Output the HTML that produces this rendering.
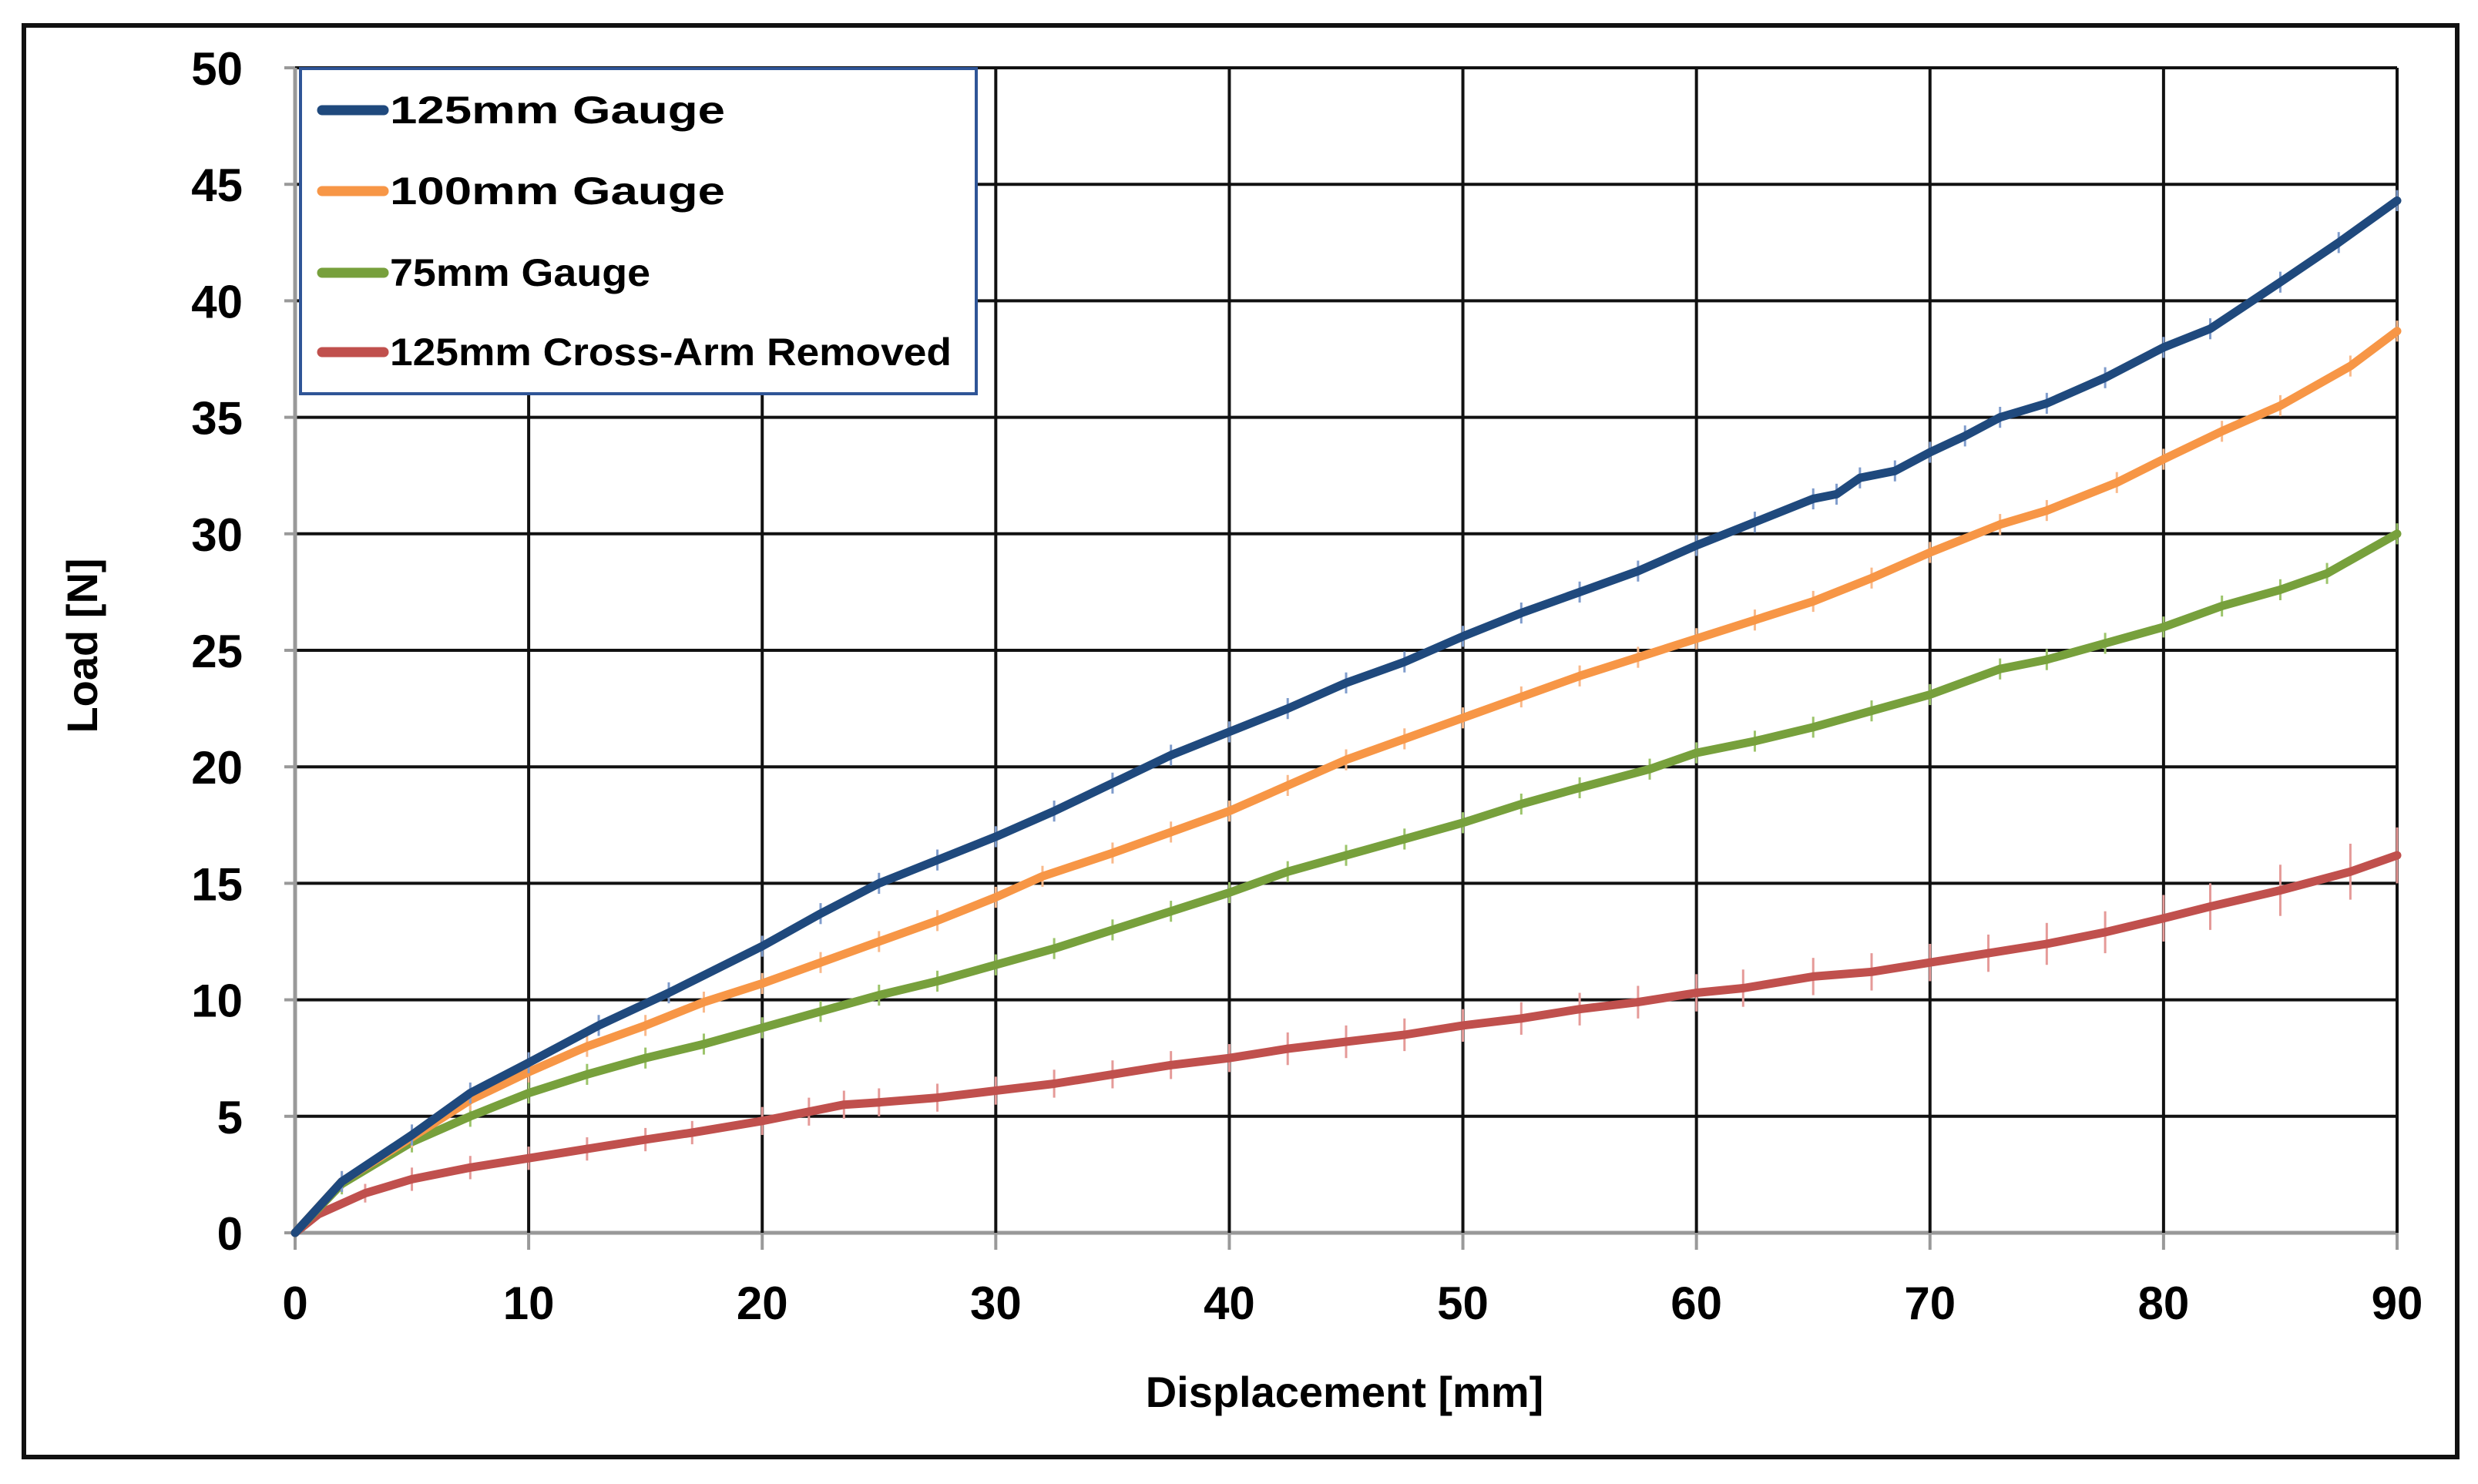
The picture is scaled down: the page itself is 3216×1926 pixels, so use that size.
<!DOCTYPE html>
<html><head><meta charset="utf-8"><style>
html,body{margin:0;padding:0;background:#fff;}
svg{display:block;font-family:"Liberation Sans",sans-serif;}
</style></head><body>
<svg id="chart" width="3216" height="1926" viewBox="0 0 3216 1926" xmlns="http://www.w3.org/2000/svg">
<rect x="31" y="33" width="3158" height="1858" fill="#fff" stroke="#111" stroke-width="6"/>
<g id="grid"></g>
<g id="series"></g>
<g id="ticks"></g>
<text x="1745" y="1826" text-anchor="middle" font-size="56" font-weight="bold">Displacement [mm]</text>
<text transform="translate(126,838) rotate(-90)" text-anchor="middle" font-size="56" font-weight="bold">Load [N]</text>
<g>
<rect x="390" y="89" width="877" height="422" fill="#fff" stroke="#2f5597" stroke-width="4"/>
<g><line x1="418" y1="143" x2="498" y2="143" stroke="#1f497d" stroke-width="13" stroke-linecap="round"/><text x="506" y="160" font-size="50" font-weight="bold" textLength="435" lengthAdjust="spacingAndGlyphs">125mm Gauge</text></g>
<g><line x1="418" y1="248" x2="498" y2="248" stroke="#f79646" stroke-width="13" stroke-linecap="round"/><text x="506" y="265" font-size="50" font-weight="bold" textLength="435" lengthAdjust="spacingAndGlyphs">100mm Gauge</text></g>
<g><line x1="418" y1="354" x2="498" y2="354" stroke="#77a03c" stroke-width="13" stroke-linecap="round"/><text x="506" y="371" font-size="50" font-weight="bold" textLength="338" lengthAdjust="spacingAndGlyphs">75mm Gauge</text></g>
<g><line x1="418" y1="457" x2="498" y2="457" stroke="#c0504d" stroke-width="13" stroke-linecap="round"/><text x="506" y="474" font-size="50" font-weight="bold" textLength="729" lengthAdjust="spacingAndGlyphs">125mm Cross-Arm Removed</text></g>
</g>
</svg>
<script>
const xTicks=[0,10,20,30,40,50,60,70,80,90];
const yTicks=[0,5,10,15,20,25,30,35,40,45,50];
const blueX=[0,2,5,7.5,10,13,16,20,22.5,25,27.5,30,32.5,35,37.5,40,42.5,45,47.5,50,52.5,55,57.5,60,62.5,65,66,67,68.5,70,71.5,73,75,77.5,80,82,85,87.5,90];
const blueY=[0,2.2,4.2,6,7.3,8.9,10.3,12.3,13.7,15,16,17,18.1,19.3,20.5,21.5,22.5,23.6,24.5,25.6,26.6,27.5,28.4,29.5,30.5,31.5,31.7,32.4,32.7,33.5,34.2,35,35.6,36.7,38,38.8,40.8,42.5,44.3];
const orangeX=[0,2,5,7.5,10,12.5,15,17.5,20,22.5,25,27.5,30,32,35,37.5,40,42.5,45,47.5,50,52.5,55,57.5,60,62.5,65,67.5,70,73,75,78,80,82.5,85,88,90];
const orangeY=[0,2.2,4.1,5.7,6.9,8,8.9,9.9,10.7,11.6,12.5,13.4,14.4,15.3,16.3,17.2,18.1,19.2,20.3,21.2,22.1,23,23.9,24.7,25.5,26.3,27.1,28.1,29.2,30.4,31,32.2,33.2,34.4,35.5,37.2,38.7];
const greenX=[0,2,5,7.5,10,12.5,15,17.5,20,22.5,25,27.5,30,32.5,35,37.5,40,42.5,45,47.5,50,52.5,55,58,60,62.5,65,67.5,70,73,75,77.5,80,82.5,85,87,90];
const greenY=[0,2.1,3.9,5,6,6.8,7.5,8.1,8.8,9.5,10.2,10.8,11.5,12.2,13,13.8,14.6,15.5,16.2,16.9,17.6,18.4,19.1,19.9,20.6,21.1,21.7,22.4,23.1,24.2,24.6,25.3,26,26.9,27.6,28.3,30];
const redX=[0,1,3,5,7.5,10,12.5,15,17,20,22,23.5,25,27.5,30,32.5,35,37.5,40,42.5,45,47.5,50,52.5,55,57.5,60,62,65,67.5,70,72.5,75,77.5,80,82,85,88,90];
const redY=[0,0.8,1.7,2.3,2.8,3.2,3.6,4,4.3,4.8,5.2,5.5,5.6,5.8,6.1,6.4,6.8,7.2,7.5,7.9,8.2,8.5,8.9,9.2,9.6,9.9,10.3,10.5,11,11.2,11.6,12,12.4,12.9,13.5,14,14.7,15.5,16.2];
const redErr=[0,0.2,0.4,0.5,0.5,0.5,0.5,0.5,0.5,0.6,0.6,0.6,0.6,0.6,0.6,0.6,0.6,0.6,0.6,0.7,0.7,0.7,0.7,0.7,0.7,0.7,0.8,0.8,0.8,0.8,0.8,0.8,0.9,0.9,1.0,1.0,1.1,1.2,1.2];

const X0=383,X1=3111,Y0=1600,Y1=88;
function sx(v){return X0+(v-0)/(90-0)*(X1-X0);}
function sy(v){return Y0-(v-0)/(50-0)*(Y0-Y1);}
const NS="http://www.w3.org/2000/svg";
function mk(tag,attrs,parent){const e=document.createElementNS(NS,tag);for(const k in attrs)e.setAttribute(k,attrs[k]);parent.appendChild(e);return e;}
const grid=document.getElementById('grid'),ticks=document.getElementById('ticks'),series=document.getElementById('series');
yTicks.forEach(v=>{
  const l=mk('line',{x1:X0,x2:X1,y1:sy(v),y2:sy(v),stroke:v===0?'#999':'#111','stroke-width':v===0?5:4},grid);
  
  
  const tk=mk('line',{x1:X0-14,x2:X0,y1:sy(v),y2:sy(v),stroke:'#999','stroke-width':4},grid);
  
  
  const t=mk('text',{x:315,y:sy(v)+22,'text-anchor':'end','font-size':60,'font-weight':'bold'},ticks);
  t.textContent=v;
  
  
});
xTicks.forEach(v=>{
  const l=mk('line',{x1:sx(v),x2:sx(v),y1:Y1,y2:Y0,stroke:v===0?'#999':'#111','stroke-width':v===0?5:4},grid);
  
  
  const tk=mk('line',{x1:sx(v),x2:sx(v),y1:Y0,y2:Y0+22,stroke:'#999','stroke-width':4},grid);
  
  
  const t=mk('text',{x:sx(v),y:1712,'text-anchor':'middle','font-size':60,'font-weight':'bold'},ticks);
  t.textContent=v;
  
  
});
function draw(xs,ys,errs,col,ecol,name){
  const g=mk('g',{},series);
  
  
  xs.forEach((x,i)=>{
    if(i===0)return;
    const e=errs?errs[i]:0.45;
    const b=mk('line',{x1:sx(x),x2:sx(x),y1:sy(ys[i]-e),y2:sy(ys[i]+e),stroke:ecol,'stroke-width':3},g);
    
    
  });
  const d=xs.map((x,i)=>(i?'L':'M')+sx(x).toFixed(1)+','+sy(ys[i]).toFixed(1)).join(' ');
  const p=mk('path',{d:d,fill:'none',stroke:col,'stroke-width':11,'stroke-linejoin':'round','stroke-linecap':'round'},g);
  
  
}
draw(redX,redY,redErr,'#c0504d','#e59a98','series-cross-arm-removed');
draw(greenX,greenY,null,'#77a03c','#9cc46a','series-75mm');
draw(orangeX,orangeY,null,'#f79646','#f9b98a','series-100mm');
draw(blueX,blueY,null,'#1f497d','#7f9ccc','series-125mm');
</script>
</body></html>
